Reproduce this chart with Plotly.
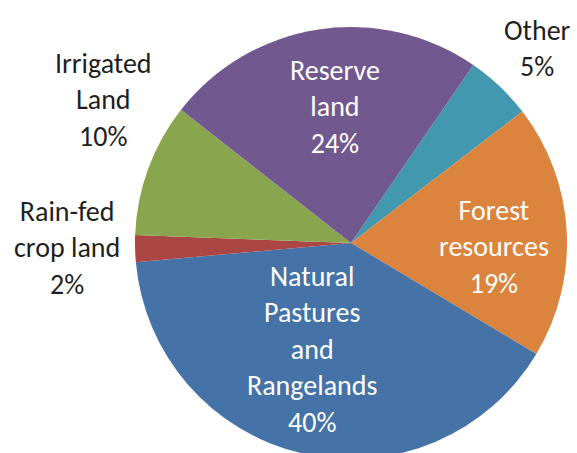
import plotly.graph_objects as go

# ---- data ----
categories = ["Other", "Forest resources", "Natural Pastures and Rangelands",
              "Rain-fed crop land", "Irrigated Land", "Reserve land"]
label_lines = ["Other", "Forest<br>resources", "Natural<br>Pastures<br>and<br>Rangelands",
               "Rain-fed<br>crop land", "Irrigated<br>Land", "Reserve<br>land"]
shares = [5, 19, 40, 2, 10, 24]
colors = ["#4198AF", "#DB843D", "#4572A7", "#AA4643", "#89A54E", "#71588F"]

W, H = 577, 470
FONT = "Carlito, Calibri, Lato, sans-serif"

# pie placement (pixels): center and radius
cx, cy, R = 351, 243, 216

fig = go.Figure()
fig.add_trace(go.Pie(
    labels=categories,
    values=shares,
    sort=False,
    direction="clockwise",
    rotation=34.5,
    marker=dict(colors=colors, line=dict(width=0)),
    textinfo="none",
    hoverinfo="label+percent",
    showlegend=False,
    domain=dict(x=[(cx - R) / W, (cx + R) / W], y=[(H - cy - R) / H, (H - cy + R) / H]),
))

# label positions in pixels (center of text block) and colours
label_pos = [(537, 48), (494, 247), (312, 349), (67, 248), (103, 100), (335, 107)]
label_col = ["#1f1f1f", "white", "white", "#1f1f1f", "#1f1f1f", "white"]

for name, val, (px, py), col in zip(label_lines, shares, label_pos, label_col):
    fig.add_annotation(
        x=px / W, y=(H - py) / H, xref="paper", yref="paper",
        text=f"{name}<br>{val}%", showarrow=False,
        xanchor="center", yanchor="middle", align="center",
        font=dict(family=FONT, size=28, color=col),
    )

fig.update_layout(
    width=W, height=H,
    margin=dict(l=0, r=0, t=0, b=0),
    paper_bgcolor="white", plot_bgcolor="white",
)

fig.write_html("out.html",
               config={"displayModeBar": False},
               post_script="document.body.style.margin='0';document.body.style.overflow='hidden';")
